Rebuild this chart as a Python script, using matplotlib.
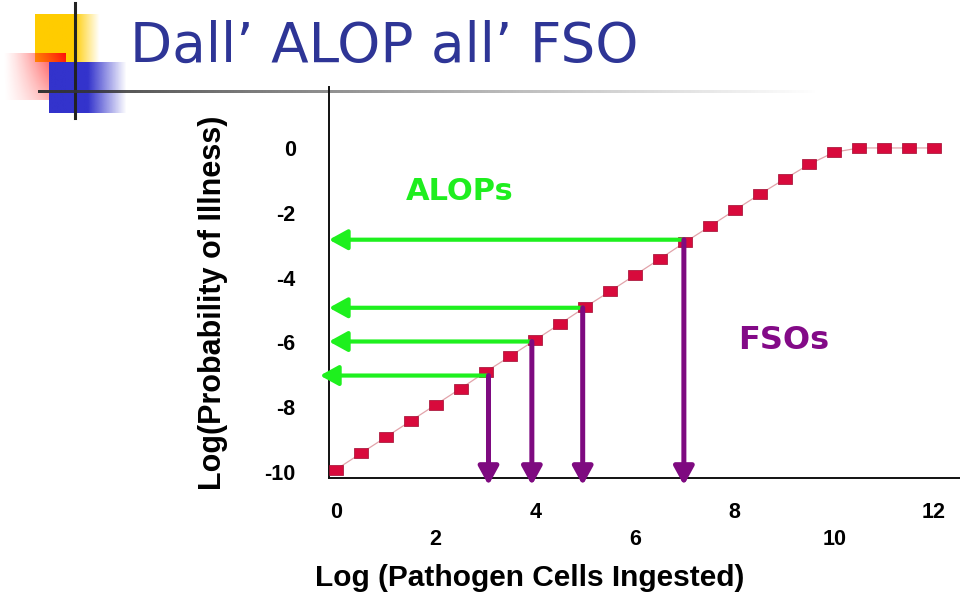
import numpy as np
import matplotlib
matplotlib.use("Agg")
import matplotlib.pyplot as plt
from matplotlib.patches import ArrowStyle

# dose-response points
log_dose = [0, 0.5, 1, 1.5, 2, 2.5, 3, 3.5, 4, 4.5, 5, 5.5, 6, 6.5, 7, 7.5,
            8, 8.5, 9, 9.5, 10, 10.5, 11, 11.5, 12]
log_prob = [-9.92, -9.42, -8.92, -8.42, -7.92, -7.42, -6.91, -6.42, -5.92,
            -5.42, -4.91, -4.42, -3.92, -3.42, -2.91, -2.42, -1.92, -1.43,
            -0.96, -0.5, -0.13, 0, 0, 0, 0]

# FSO levels (x) and the matching ALOP levels (y)
fso_x = [3.06, 3.93, 4.95, 6.98]
alop_y = [-7.02, -5.97, -4.93, -2.83]
alop_tip = [-0.32, -0.14, -0.14, -0.14]
fso_tip = -10.4

xticks_top = [0, 4, 8, 12]
xticks_low = [2, 6, 10]
yticks = [0, -2, -4, -6, -8, -10]

W, H = 960, 598
fig = plt.figure(figsize=(W / 100, H / 100), dpi=100)

# ---- slide decoration (pixel coords) ----
deco = fig.add_axes([0, 0, 1, 1])
deco.axis("off")


def grad_img(rgb, alpha):
    img = np.ones(alpha.shape + (4,))
    img[..., :3] = rgb
    img[..., 3] = np.clip(alpha, 0, 1)
    return img


# yellow square, fades to the right
gx = np.linspace(0, 1, 80)
a = np.where(gx < 0.6, 1.0, 1 - (gx - 0.6) / 0.4)
deco.imshow(grad_img((1.0, 0.8, 0.0), np.tile(a, (20, 1))),
            extent=[35, 100, 62, 14], aspect="auto", zorder=1)
# red rectangle, strongest at top-right
gx, gy = np.meshgrid(np.linspace(0, 1, 80), np.linspace(0, 1, 60))
a = (gx ** 1.3) * (1 - 0.55 * gy)
deco.imshow(grad_img((1.0, 0.05, 0.05), a),
            extent=[3, 66, 100, 53], aspect="auto", zorder=2)
# blue square, fades to the right
gx = np.linspace(0, 1, 80)
a = np.where(gx < 0.5, 1.0, 1 - (gx - 0.5) / 0.5)
deco.imshow(grad_img((0.2, 0.2, 0.8), np.tile(a, (20, 1))),
            extent=[49, 127, 113, 62], aspect="auto", zorder=3)
# cross lines
deco.plot([75, 75], [3, 118], color="#222222", lw=2.2, zorder=4)
gx = np.linspace(0, 1, 400)
a = np.clip(1 - gx ** 0.8, 0, 1)
deco.imshow(grad_img((0.2, 0.2, 0.2), np.tile(a, (2, 1))),
            extent=[38, 820, 93.5, 90.5], aspect="auto", zorder=4)
deco.set_xlim(0, W)
deco.set_ylim(H, 0)

fig.text(130 / W, 1 - 62 / H, "Dall\u2019 ALOP all\u2019 FSO", color="#2E3596",
         fontsize=39.5, family="DejaVu Sans", va="baseline", ha="left")

# ---- main chart ----
ax = fig.add_axes([329 / W, 120 / H, 631 / W, 391 / H])
ax.set_xlim(-0.14, 12.52)
ax.set_ylim(-10.18, 1.88)
ax.patch.set_alpha(0)
for s in ["top", "right"]:
    ax.spines[s].set_visible(False)
for s in ["left", "bottom"]:
    ax.spines[s].set_linewidth(1.4)
    ax.spines[s].set_color("#111111")

rect = [(-1.4, -1), (1.4, -1), (1.4, 1), (-1.4, 1), (-1.4, -1)]
ax.plot(log_dose, log_prob, color="#E2A3AA", lw=0.9, zorder=2)
ax.plot(log_dose, log_prob, ls="none", marker=rect, markersize=10.5,
        markerfacecolor="#D80A3C", markeredgecolor="#A0082E",
        markeredgewidth=0.5, zorder=3)

head = ArrowStyle("-|>", head_length=1.0, head_width=0.55)
for x0, y0, xt in zip(fso_x, alop_y, alop_tip):
    ax.annotate("", xy=(xt, y0), xytext=(x0, y0),
                arrowprops=dict(arrowstyle=head, mutation_scale=11,
                                color="#1EF01E", lw=3.0, shrinkA=0, shrinkB=0),
                annotation_clip=False, zorder=4)
for x0, y0 in zip(fso_x, alop_y):
    ax.annotate("", xy=(x0, fso_tip), xytext=(x0, y0),
                arrowprops=dict(arrowstyle=head, mutation_scale=11,
                                color="#7E0A80", lw=3.6, shrinkA=0, shrinkB=0),
                annotation_clip=False, zorder=5)

ax.text(2.49, -1.33, "ALOPs", color="#1EEE1E", fontsize=22, fontweight="bold",
        family="DejaVu Sans", ha="center", va="center")
ax.text(8.99, -5.93, "FSOs", color="#830A87", fontsize=23, fontweight="bold",
        family="DejaVu Sans", ha="center", va="center")

tick_font = dict(family="Liberation Sans", fontweight="bold", fontsize=15.5)
ax.set_xticks(xticks_top)
ax.set_xticklabels([str(v) for v in xticks_top], **tick_font)
ax.set_xticks(xticks_low, minor=True)
ax.set_xticklabels([str(v) for v in xticks_low], minor=True, **tick_font)
ax.tick_params(axis="x", which="major", length=0, pad=17.5)
ax.tick_params(axis="x", which="minor", length=0, pad=37)
ax.set_yticks(yticks)
ax.set_yticklabels([str(v) for v in yticks], **tick_font)
ax.tick_params(axis="y", length=0, pad=24)

fig.text(213 / W, 1 - 303 / H, "Log(Probability of Illness)", rotation=90,
         family="Liberation Sans", fontweight="bold", fontsize=22,
         ha="center", va="center")
fig.text(530 / W, 1 - 578 / H, "Log (Pathogen Cells Ingested)",
         family="Liberation Sans", fontweight="bold", fontsize=21.5,
         ha="center", va="center")

fig.savefig("out.png", dpi=100)
